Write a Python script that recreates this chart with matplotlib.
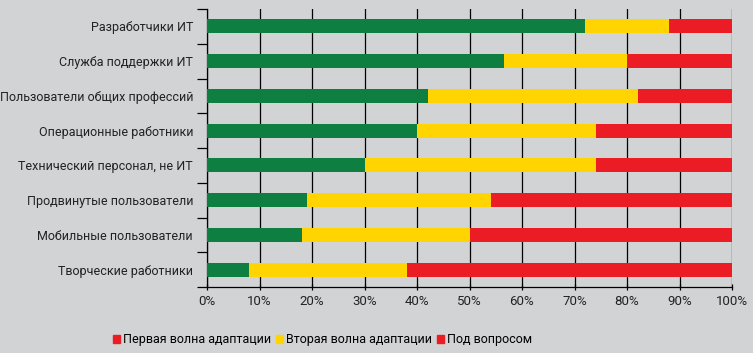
import matplotlib.pyplot as plt
from matplotlib.patches import Patch
from matplotlib.ticker import MultipleLocator, FixedLocator, PercentFormatter

plt.rcParams['font.family'] = ['Roboto', 'DejaVu Sans']

# категории снизу вверх
categories = ["Творческие работники", "Мобильные пользователи", "Продвинутые пользователи",
              "Технический персонал, не ИТ", "Операционные работники",
              "Пользователи общих профессий", "Служба поддержки ИТ", "Разработчики ИТ"]
first_wave = [8, 18, 19, 30, 40, 42, 56.5, 72]
second_wave = [30, 32, 35, 44, 34, 40, 23.5, 16]
questionable = [62, 50, 46, 26, 26, 18, 20, 12]
series_names = ["Первая волна адаптации", "Вторая волна адаптации", "Под вопросом"]

green = "#0e7f41"
yellow = "#ffd400"
red = "#ec1c24"
bg = "#d1d3d4"

fig = plt.figure(figsize=(7.53, 3.53), dpi=100, facecolor=bg)
ax = fig.add_axes([207 / 753, 1 - 287 / 353, 525 / 753, 278 / 353], facecolor=bg)

y = range(len(categories))
left2 = [a for a in first_wave]
left3 = [a + b for a, b in zip(first_wave, second_wave)]
ax.barh(y, first_wave, height=0.4, color=green, zorder=3)
ax.barh(y, second_wave, left=left2, height=0.4, color=yellow, zorder=3)
ax.barh(y, questionable, left=left3, height=0.4, color=red, zorder=3)

ax.set_xlim(0, 100)
ax.set_ylim(-0.5, len(categories) - 0.5)
ax.xaxis.set_major_locator(MultipleLocator(10))
ax.xaxis.set_major_formatter(PercentFormatter(decimals=0))
ax.grid(axis="x", color="black", linewidth=0.9, zorder=0)

# метки категорий по центру, короткие засечки на границах
ax.yaxis.set_major_locator(FixedLocator([i - 0.5 for i in range(len(categories) + 1)]))
ax.yaxis.set_minor_locator(FixedLocator(list(y)))
ax.set_yticklabels([], minor=False)
ax.set_yticklabels(categories, minor=True)
ax.tick_params(axis="y", which="major", length=7, width=0.9, color="black")
ax.tick_params(axis="y", which="minor", length=0, pad=10, labelsize=9, labelcolor="#222222")
ax.tick_params(axis="x", length=4, width=0.9, direction="inout", labelsize=9.5,
               labelcolor="#222222", pad=4)

for s in ["top", "right"]:
    ax.spines[s].set_visible(False)
ax.spines["left"].set_linewidth(0.9)
ax.spines["bottom"].set_linewidth(0.9)

handles = [Patch(color=red), Patch(color=yellow), Patch(color=red)]
fig.legend(handles, series_names, loc="center", bbox_to_anchor=(0.428, 0.037), ncol=3,
           frameon=False, fontsize=9, handlelength=0.6, handleheight=0.6,
           handletextpad=0.2, columnspacing=0.4)

fig.savefig("out.png", dpi=100, facecolor=bg)
